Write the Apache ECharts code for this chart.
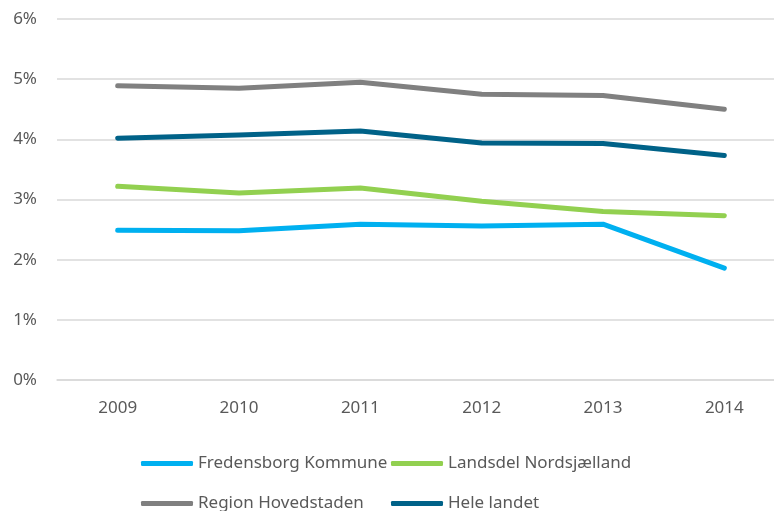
<!DOCTYPE html>
<html>
<head>
<meta charset="utf-8">
<script src="https://cdn.jsdelivr.net/npm/echarts@6/dist/echarts.min.js"></script>
<style>
  html, body { margin: 0; padding: 0; background: #fff; }
  #chart { width: 774px; height: 511px; }
</style>
</head>
<body>
<div id="chart"></div>
<script>
const years = ['2009', '2010', '2011', '2012', '2013', '2014']
const fredensborg = [2.49, 2.48, 2.59, 2.56, 2.59, 1.86]
const nordsjaelland = [3.22, 3.11, 3.19, 2.97, 2.80, 2.73]
const hovedstaden = [4.89, 4.85, 4.95, 4.75, 4.73, 4.50]
const heleLandet = [4.02, 4.07, 4.14, 3.94, 3.93, 3.73]

const font = 'Noto Sans'
const textColor = '#595959'

const chart = echarts.init(document.getElementById('chart'))

const line = (name, data, color) => ({
  name,
  type: 'line',
  data,
  showSymbol: false,
  symbol: 'none',
  lineStyle: { width: 5, color, cap: 'round', join: 'round' },
  itemStyle: { color },
  emphasis: { disabled: true }
})

// one legend per entry so the two columns line up like the original
const legendAt = (name, left, top) => ({
  data: [name],
  left,
  top,
  padding: 0,
  itemWidth: 52,
  itemHeight: 5,
  itemGap: 4,
  icon: 'roundRect',
  textStyle: { color: textColor, fontFamily: font, fontSize: 17 },
  selectedMode: false
})

chart.setOption({
  animation: false,
  grid: { left: 57, width: 728, top: 19, bottom: 131, outerBoundsMode: 'none' },
  legend: [
    legendAt('Fredensborg Kommune', 141, 455),
    legendAt('Landsdel Nordsjælland', 391, 455),
    legendAt('Region Hovedstaden', 141, 495),
    legendAt('Hele landet', 391, 495)
  ],
  xAxis: {
    type: 'category',
    data: years,
    boundaryGap: true,
    axisLine: { lineStyle: { color: '#d9d9d9', width: 1.5 } },
    axisTick: { show: false },
    axisLabel: { color: textColor, fontFamily: font, fontSize: 17, margin: 20 }
  },
  yAxis: {
    type: 'value',
    min: 0,
    max: 6,
    interval: 1,
    axisLine: { show: false },
    axisTick: { show: false },
    splitLine: { lineStyle: { color: '#d9d9d9', width: 1.5 } },
    axisLabel: { formatter: '{value}%', color: textColor, fontFamily: font, fontSize: 17, margin: 20 }
  },
  series: [
    line('Fredensborg Kommune', fredensborg, '#00b0f0'),
    line('Landsdel Nordsjælland', nordsjaelland, '#92d050'),
    line('Region Hovedstaden', hovedstaden, '#808080'),
    line('Hele landet', heleLandet, '#006288')
  ]
})
</script>
</body>
</html>
